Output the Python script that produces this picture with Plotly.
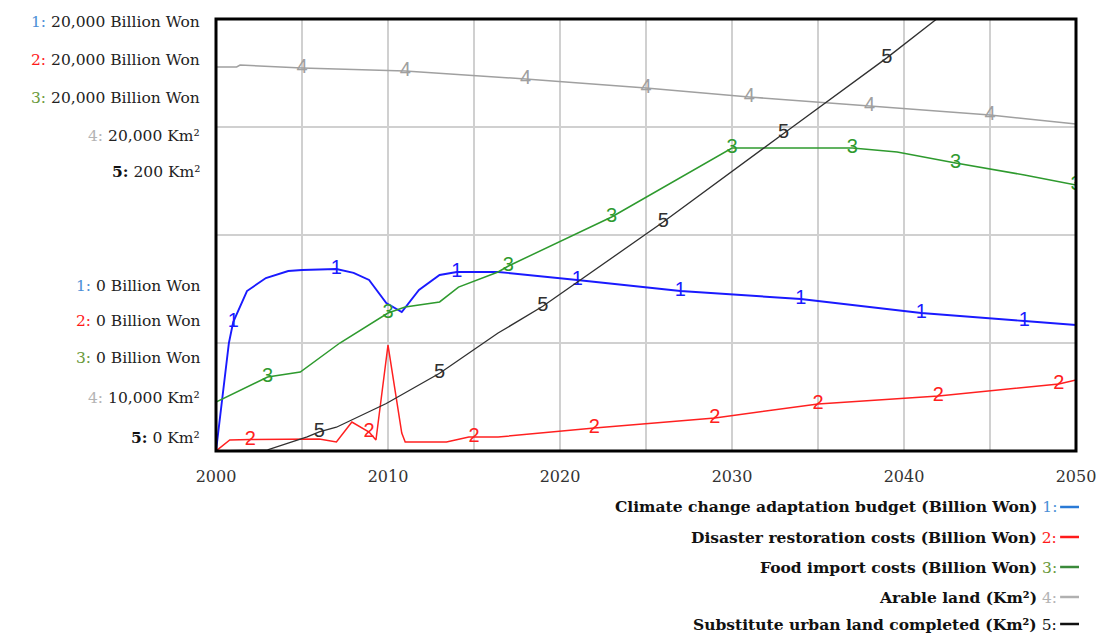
import plotly.graph_objects as go

# ---------------- data ----------------
budget_years = [2000, 2000.75, 2001, 2001.8, 2002.9, 2004.2, 2005, 2007, 2008, 2008.9, 2009.9, 2010.8,
                2011.8, 2013, 2014, 2016.4, 2021, 2027, 2034, 2041, 2047, 2050]
budget_vals = [0, 5000, 5972, 7407, 8009, 8333, 8380, 8426, 8250, 7917, 6850, 6435,
               7454, 8148, 8290, 8290, 7917, 7407, 7037, 6389, 6019, 5833]
budget_lbl_years = [2001, 2007, 2014, 2021, 2027, 2034, 2041, 2047]

restore_years = [2000, 2000.8, 2002, 2004.9, 2006, 2007, 2007.9, 2008.9, 2009.3, 2010, 2010.8, 2011,
                 2013.4, 2014.7, 2015, 2016.4, 2022, 2029, 2035, 2042, 2049, 2050]
restore_vals = [0, 509, 530, 556, 556, 417, 1343, 880, 509, 4907, 833, 417,
                417, 648, 648, 648, 1065, 1528, 2176, 2546, 3102, 3287]
restore_lbl_years = [2002, 2008.9, 2015, 2022, 2029, 2035, 2042, 2049]

food_years = [2000, 2003, 2004.9, 2007.2, 2010, 2011, 2013, 2014.1, 2016.4, 2017, 2023, 2030,
              2032, 2037, 2039.6, 2043, 2047, 2050]
food_vals = [2270, 3426, 3657, 5000, 6389, 6667, 6900, 7590, 8287, 8565, 10833, 14028,
             14028, 14028, 13843, 13333, 12778, 12315]
food_lbl_years = [2003, 2010, 2017, 2023, 2030, 2037, 2043, 2050]

arable_years = [2000, 2001.2, 2001.4, 2005, 2011, 2018, 2025, 2031, 2038, 2045, 2050]
arable_vals = [18889, 18889, 18935, 18866, 18796, 18611, 18403, 18194, 17986, 17778, 17569]
arable_lbl_years = [2005, 2011, 2018, 2025, 2031, 2038, 2045]

urban_years = [2000, 2003, 2005.3, 2006, 2007, 2009.9, 2013, 2016.4, 2019, 2026, 2033, 2039, 2041.9]
urban_vals = [0, 0.5, 6.5, 8.8, 11, 22, 36, 54.6, 67, 106, 147, 182, 200]
urban_lbl_years = [2006, 2013, 2019, 2026, 2033, 2039]

x_tick_years = [2000, 2005, 2010, 2015, 2020, 2025, 2030, 2035, 2040, 2045, 2050]
x_tick_text = ["2000", "", "2010", "", "2020", "", "2030", "", "2040", "", "2050"]

series_names = ["Climate change adaptation budget (Billion Won)",
                "Disaster restoration costs (Billion Won)",
                "Food import costs (Billion Won)",
                "Arable land (Km²)",
                "Substitute urban land completed (Km²)"]
scale_top = ["20,000 Billion Won", "20,000 Billion Won", "20,000 Billion Won", "20,000 Km²", "200 Km²"]
scale_bottom = ["0 Billion Won", "0 Billion Won", "0 Billion Won", "10,000 Km²", "0 Km²"]

# ---------------- styles ----------------
line_colors = ["#1a1aff", "#ff2020", "#2e9a2e", "#a0a0a0", "#303030"]
line_widths = [1.9, 1.5, 1.5, 1.5, 1.3]
digit_colors = ["#4a8fd6", "#ff1a1a", "#6a9a3a", "#b4b4b4", "#111111"]
legend_line_colors = ["#2a7ad6", "#ff1a1a", "#3a8a3a", "#b0b0b0", "#111111"]

fig = go.Figure()

datasets = [
    (budget_years, budget_vals, budget_lbl_years, "y"),
    (restore_years, restore_vals, restore_lbl_years, "y"),
    (food_years, food_vals, food_lbl_years, "y"),
    (arable_years, arable_vals, arable_lbl_years, "y2"),
    (urban_years, urban_vals, urban_lbl_years, "y3"),
]

for i, (xs, ys, lbls, ax) in enumerate(datasets):
    texts = [str(i + 1) if x in lbls else "" for x in xs]
    fig.add_trace(go.Scatter(
        x=xs, y=ys, mode="lines+text", text=texts, textposition="middle center",
        textfont=dict(family="Liberation Sans, Arial", size=20, color=line_colors[i]),
        line=dict(color=line_colors[i], width=line_widths[i]),
        yaxis=ax, showlegend=False, cliponaxis=True, name=series_names[i]))

# page body has an 8px margin: figure is shrunk by 8px so the plot sits where the reference has it
grid_c = "#d0d0d0"
fig.update_layout(
    width=1099, height=625, autosize=False,
    margin=dict(l=208, r=25, t=11, b=182),
    paper_bgcolor="white", plot_bgcolor="white",
    xaxis=dict(range=[2000, 2050], tickvals=x_tick_years, ticktext=x_tick_text,
               showgrid=True, gridcolor=grid_c, gridwidth=2, zeroline=False,
               ticks="", ticklabelstandoff=14, showline=False,
               tickfont=dict(family="DejaVu Serif", size=16, color="#333")),
    yaxis=dict(range=[0, 20000], dtick=5000, showgrid=True, gridcolor=grid_c, gridwidth=2,
               showticklabels=False, zeroline=False, ticks=""),
    yaxis2=dict(range=[10000, 20000], overlaying="y", showgrid=False, showticklabels=False,
                zeroline=False, ticks=""),
    yaxis3=dict(range=[0, 200], overlaying="y", showgrid=False, showticklabels=False,
                zeroline=False, ticks=""),
)

# plot frame
fig.add_shape(type="rect", xref="paper", yref="paper", x0=0, y0=0, x1=1, y1=1,
              line=dict(color="black", width=3), layer="above")

# scale labels at left (pixel rows of the reference, converted to paper units)
PW = 866
top_px = [22, 60, 98, 136, 172]
bot_px = [286, 321, 358, 398, 437]
label_font = dict(family="DejaVu Serif", size=15.5, color="#222")
for i in range(5):
    for py, txt in ((top_px[i], scale_top[i]), (bot_px[i], scale_bottom[i])):
        d = f"{i + 1}:"
        if i == 4:
            d = f"<b>{d}</b>"
        digit = f"<span style='color:{digit_colors[i]}'>{d}</span>"
        fig.add_annotation(xref="paper", yref="paper", x=(202 - 216) / PW, y=(451 - py) / 432,
                           xanchor="right", yanchor="middle", showarrow=False,
                           text=f"{digit} {txt}", font=label_font)

# legend at bottom
leg_px = [507, 537, 567, 597, 624]
for i in range(5):
    yp = (451 - leg_px[i]) / 432
    fig.add_annotation(xref="paper", yref="paper", x=(1065 - 216) / PW, y=yp,
                       xanchor="right", yanchor="middle", showarrow=False,
                       text=f"<b>{series_names[i]}</b> <span style='color:{digit_colors[i]}'>{i + 1}:</span>",
                       font=dict(family="DejaVu Serif", size=15.5, color="#111"))
    fig.add_shape(type="line", xref="paper", yref="paper",
                  x0=(1066 - 216) / PW, x1=(1085 - 216) / PW, y0=yp, y1=yp,
                  line=dict(color=legend_line_colors[i], width=2.5))

fig.write_html("out.html")
